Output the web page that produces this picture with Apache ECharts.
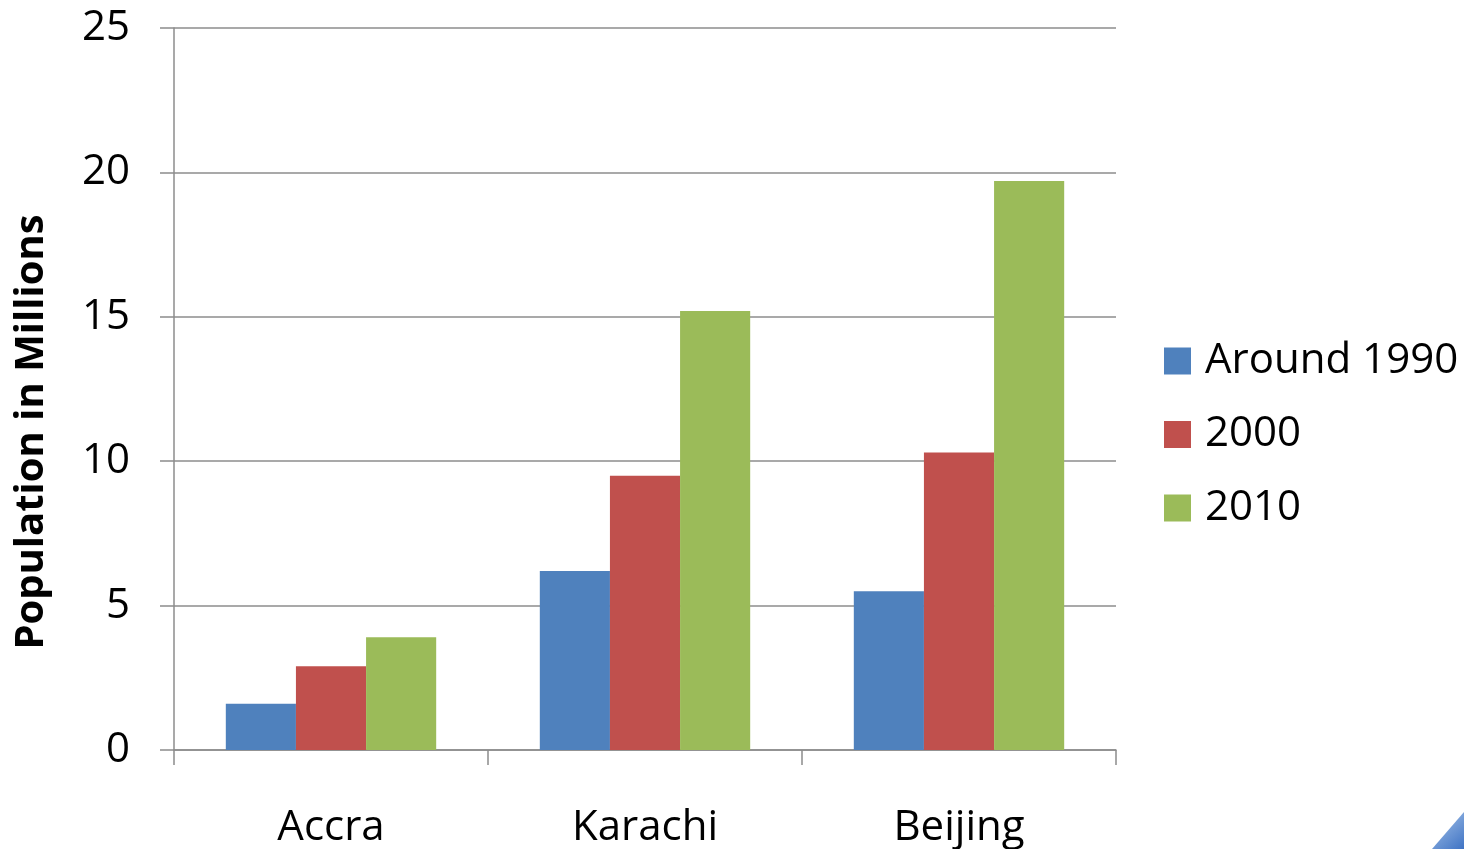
<!DOCTYPE html>
<html>
<head>
<meta charset="utf-8">
<script src="https://cdn.jsdelivr.net/npm/echarts@6/dist/echarts.min.js"></script>
<style>html,body{margin:0;padding:0;background:#fff;}#c{width:1464px;height:849px;}</style>
</head>
<body>
<div id="c"></div>
<script>
const categories = ['Accra', 'Karachi', 'Beijing'];
const seriesNames = ['Around 1990', '2000', '2010'];
const around1990 = [1.6, 6.2, 5.5];
const y2000 = [2.9, 9.5, 10.3];
const y2010 = [3.9, 15.2, 19.7];
const yTicks = { min: 0, max: 25, interval: 5 };
const yTitle = 'Population in Millions';

const colors = ['#4F81BD', '#C0504D', '#9BBB59'];
const FONT = '"Open Sans", sans-serif';
const axisGray = '#8c8c8c';

const chart = echarts.init(document.getElementById('c'), null, { renderer: 'canvas' });
const dataSets = [around1990, y2000, y2010];
chart.setOption({
  animation: false,
  backgroundColor: '#ffffff',
  color: colors,
  grid: { left: 174, right: 348, top: 28, bottom: 99, containLabel: false },
  legend: {
    orient: 'vertical',
    left: 1164,
    top: 339,
    padding: 0,
    itemWidth: 27,
    itemHeight: 27,
    itemGap: 29.5,
    icon: 'rect',
    textStyle: { fontFamily: FONT, fontSize: 42, color: '#000', lineHeight: 44, padding: [0, 0, 0, 9] },
    data: seriesNames
  },
  xAxis: {
    type: 'category',
    data: categories,
    boundaryGap: true,
    axisLine: { lineStyle: { color: axisGray, width: 1.5 } },
    axisTick: { show: true, length: 15, lineStyle: { color: axisGray, width: 1.5 } },
    axisLabel: { fontFamily: FONT, fontSize: 42, color: '#000', margin: 57 },
    splitLine: { show: false }
  },
  yAxis: {
    type: 'value',
    min: yTicks.min,
    max: yTicks.max,
    interval: yTicks.interval,
    axisLine: { show: true, lineStyle: { color: axisGray, width: 1.5 } },
    axisTick: { show: true, length: 14, lineStyle: { color: axisGray, width: 1.5 } },
    axisLabel: { fontFamily: FONT, fontSize: 42, color: '#000', margin: 44 },
    splitLine: { show: true, lineStyle: { color: axisGray, width: 1.5 } }
  },
  graphic: [
    {
      type: 'text',
      x: 32, y: 432,
      rotation: Math.PI / 2,
      style: {
        text: yTitle,
        fontFamily: FONT,
        fontWeight: 'bold',
        fontSize: 40,
        fill: '#000',
        align: 'center',
        verticalAlign: 'middle'
      }
    },
    {
      type: 'polygon',
      shape: { points: [[1432, 849], [1464, 812], [1464, 849]] },
      style: {
        fill: new echarts.graphic.LinearGradient(0, 0, 1, 1, [
          { offset: 0, color: '#a9c6ea' },
          { offset: 1, color: '#3f73c4' }
        ])
      },
      silent: true
    }
  ],
  series: seriesNames.map((name, i) => ({
    name: name,
    type: 'bar',
    data: dataSets[i],
    barGap: '0%',
    barCategoryGap: '33%',
    itemStyle: { color: colors[i] }
  }))
});
</script>
</body>
</html>
